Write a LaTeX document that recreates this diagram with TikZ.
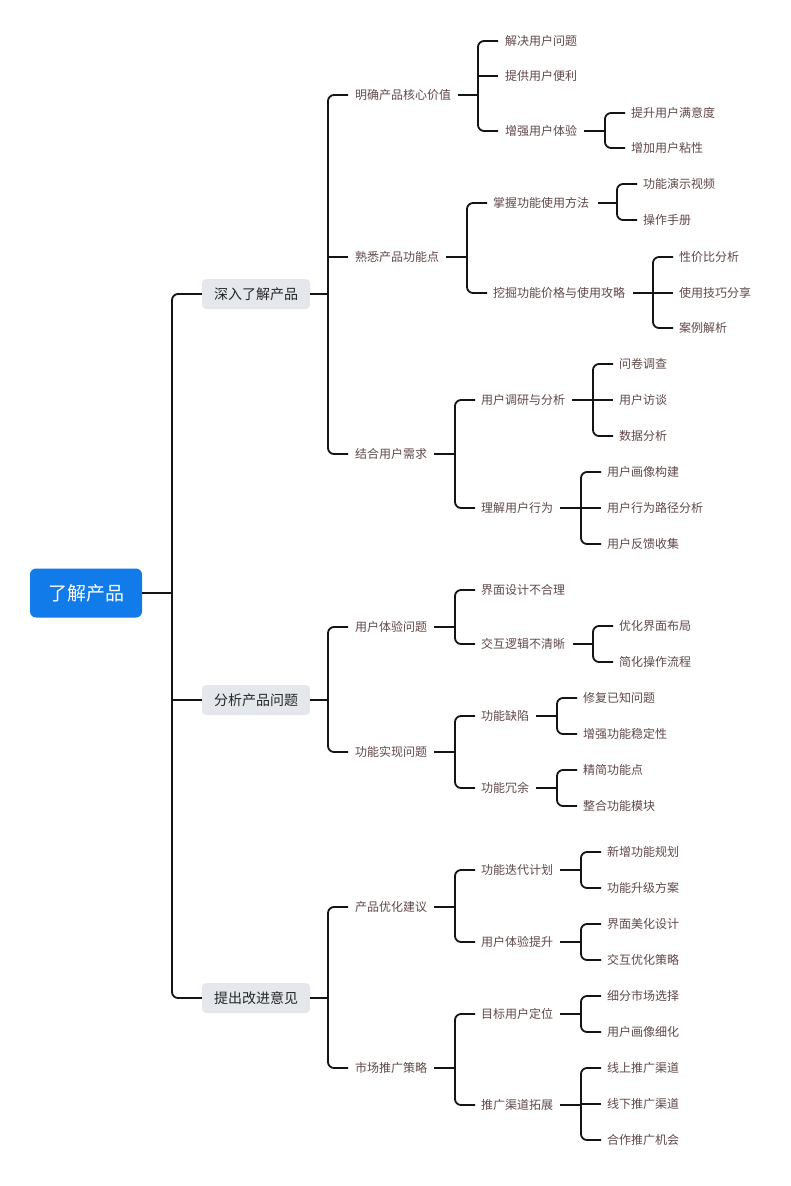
\documentclass[tikz,border=0pt]{standalone}
\usepackage{fontspec}
\newfontfamily\cjk{Noto Sans CJK SC}
\usetikzlibrary{calc}
\definecolor{txt}{RGB}{96,72,72}
\definecolor{lnc}{RGB}{20,20,20}
\definecolor{rootc}{RGB}{16,123,233}
\definecolor{boxc}{RGB}{228,232,236}
\tikzset{
 leaf/.style={anchor=west,inner sep=0pt,text=txt,font=\cjk\fontsize{12}{14}\selectfont},
 lvone/.style={fill=boxc,rounded corners=4pt,minimum width=108pt,minimum height=30pt,inner sep=0pt,text=black!85,font=\cjk\fontsize{14}{16}\selectfont},
 rootbox/.style={fill=rootc,rounded corners=6pt,minimum width=112pt,minimum height=49pt,inner sep=0pt,text=white,font=\cjk\fontsize{19}{22}\selectfont},
 stub/.style={draw=lnc,line width=2.6pt},
 branch/.style={draw=lnc,line width=1.8pt,rounded corners=6pt},
}
% #1 parent, #2 stub gap, #3 bar x, #4 child gap, #5 first child, #6 last child, #7 middle children
\newcommand\mmfam[7]{%
 \path let \p1=(#1.east) in coordinate (#1-b) at (#3,\y1);
 \draw[stub] ([xshift=#2]#1.east) -- (#1-b);
 \draw[branch] ([xshift=-#4]#5.west) -| (#1-b) |- ([xshift=-#4]#6.west);
 \foreach \c in {#7}{\draw[branch] (\c.west -| #1-b) -- ([xshift=-#4]\c.west);}
}
\begin{document}
\begin{tikzpicture}[x=1pt,y=-1pt]
\useasboundingbox (0,0) rectangle (790,1186);
% root and level 1
\node[rootbox] (r) at (86,593) {了解产品};
\node[lvone] (A) at (256,294) {深入了解产品};
\node[lvone] (B) at (256,700) {分析产品问题};
\node[lvone] (C) at (256,998) {提出改进意见};
% A
\node[leaf] (A1) at (355,95) {明确产品核心价值};
\node[leaf] (A2) at (355,257) {熟悉产品功能点};
\node[leaf] (A3) at (355,454) {结合用户需求};
\node[leaf] (A11) at (505,41) {解决用户问题};
\node[leaf] (A12) at (505,76) {提供用户便利};
\node[leaf] (A13) at (505,131) {增强用户体验};
\node[leaf] (A131) at (631,113) {提升用户满意度};
\node[leaf] (A132) at (631,148) {增加用户粘性};
\node[leaf] (A21) at (493,203) {掌握功能使用方法};
\node[leaf] (A22) at (493,293) {挖掘功能价格与使用攻略};
\node[leaf] (A211) at (643,184) {功能演示视频};
\node[leaf] (A212) at (643,220) {操作手册};
\node[leaf] (A221) at (679,257) {性价比分析};
\node[leaf] (A222) at (679,293) {使用技巧分享};
\node[leaf] (A223) at (679,328) {案例解析};
\node[leaf] (A31) at (481,400) {用户调研与分析};
\node[leaf] (A32) at (481,508) {理解用户行为};
\node[leaf] (A311) at (619,364) {问卷调查};
\node[leaf] (A312) at (619,400) {用户访谈};
\node[leaf] (A313) at (619,436) {数据分析};
\node[leaf] (A321) at (607,472) {用户画像构建};
\node[leaf] (A322) at (607,508) {用户行为路径分析};
\node[leaf] (A323) at (607,544) {用户反馈收集};
% B
\node[leaf] (B1) at (355,627) {用户体验问题};
\node[leaf] (B2) at (355,752) {功能实现问题};
\node[leaf] (B11) at (481,590) {界面设计不合理};
\node[leaf] (B12) at (481,644) {交互逻辑不清晰};
\node[leaf] (B121) at (619,626) {优化界面布局};
\node[leaf] (B122) at (619,662) {简化操作流程};
\node[leaf] (B21) at (481,716) {功能缺陷};
\node[leaf] (B22) at (481,788) {功能冗余};
\node[leaf] (B211) at (583,698) {修复已知问题};
\node[leaf] (B212) at (583,734) {增强功能稳定性};
\node[leaf] (B221) at (583,770) {精简功能点};
\node[leaf] (B222) at (583,806) {整合功能模块};
% C
\node[leaf] (C1) at (355,907) {产品优化建议};
\node[leaf] (C2) at (355,1068) {市场推广策略};
\node[leaf] (C11) at (481,870) {功能迭代计划};
\node[leaf] (C12) at (481,942) {用户体验提升};
\node[leaf] (C111) at (607,852) {新增功能规划};
\node[leaf] (C112) at (607,888) {功能升级方案};
\node[leaf] (C121) at (607,924) {界面美化设计};
\node[leaf] (C122) at (607,960) {交互优化策略};
\node[leaf] (C21) at (481,1014) {目标用户定位};
\node[leaf] (C22) at (481,1105) {推广渠道拓展};
\node[leaf] (C211) at (607,996) {细分市场选择};
\node[leaf] (C212) at (607,1032) {用户画像细化};
\node[leaf] (C221) at (607,1068) {线上推广渠道};
\node[leaf] (C222) at (607,1104) {线下推广渠道};
\node[leaf] (C223) at (607,1140) {合作推广机会};
% connectors
\mmfam{r}{0pt}{172}{0pt}{A}{C}{B}
\mmfam{A}{0pt}{328}{7pt}{A1}{A3}{A2}
\mmfam{B}{0pt}{328}{7pt}{B1}{B2}{}
\mmfam{C}{0pt}{328}{7pt}{C1}{C2}{}
\mmfam{A1}{7pt}{478}{7pt}{A11}{A13}{A12}
\mmfam{A13}{7pt}{605}{6pt}{A131}{A132}{}
\mmfam{A2}{7pt}{467}{6pt}{A21}{A22}{}
\mmfam{A21}{9pt}{617}{6pt}{A211}{A212}{}
\mmfam{A22}{8pt}{653}{6pt}{A221}{A223}{A222}
\mmfam{A3}{7pt}{455}{6pt}{A31}{A32}{}
\mmfam{A31}{7pt}{593}{6pt}{A311}{A313}{A312}
\mmfam{A32}{7pt}{581}{6pt}{A321}{A323}{A322}
\mmfam{B1}{7pt}{455}{6pt}{B11}{B12}{}
\mmfam{B12}{8pt}{593}{6pt}{B121}{B122}{}
\mmfam{B2}{7pt}{455}{6pt}{B21}{B22}{}
\mmfam{B21}{7pt}{557}{6pt}{B211}{B212}{}
\mmfam{B22}{7pt}{557}{6pt}{B221}{B222}{}
\mmfam{C1}{7pt}{455}{6pt}{C11}{C12}{}
\mmfam{C11}{7pt}{581}{6pt}{C111}{C112}{}
\mmfam{C12}{7pt}{581}{6pt}{C121}{C122}{}
\mmfam{C2}{7pt}{455}{6pt}{C21}{C22}{}
\mmfam{C21}{7pt}{581}{6pt}{C211}{C212}{}
\mmfam{C22}{7pt}{581}{6pt}{C221}{C223}{C222}
\end{tikzpicture}
\end{document}
